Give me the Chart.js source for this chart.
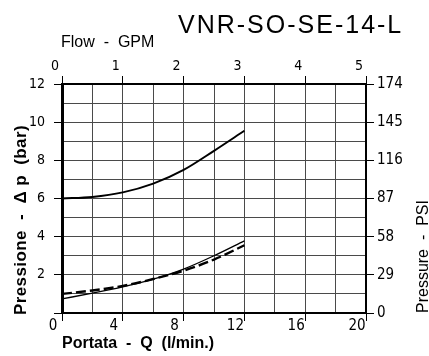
<!DOCTYPE html>
<html>
<head>
<meta charset="utf-8">
<script src="https://cdn.jsdelivr.net/npm/chart.js@4"></script>
<style>
  html, body { margin: 0; padding: 0; background: #fff; }
  #wrap { width: 429px; height: 356px; }
</style>
</head>
<body>
<div id="wrap"><canvas id="flowChart" width="429" height="356"></canvas></div>
<script>
const flowLpm = [0, 2, 4, 6, 8, 10, 12];
// Pressure drop (bar)
const upperCurve = [6.0, 6.08, 6.32, 6.78, 7.5, 8.5, 9.55];
const lowerSolid = [0.74, 1.04, 1.37, 1.77, 2.3, 3.0, 3.78];
const lowerDashed = [1.0, 1.18, 1.42, 1.78, 2.22, 2.8, 3.55];
// Tick labels
const lpmLabels = [0, 4, 8, 12, 16, 20];
const barLabels = [2, 4, 6, 8, 10, 12];
const psiLabels = [0, 29, 58, 87, 116, 145, 174];
const gpmLabels = [0, 1, 2, 3, 4, 5];

const narrow = "'Liberation Sans Narrow', 'DejaVu Sans Condensed', sans-serif";
const clear = 'rgba(0,0,0,0)';

function pts(values) {
  return flowLpm.map((q, i) => ({ x: q, y: values[i] }));
}

// titles drawn straight on the canvas
const chartText = {
  id: 'chartText',
  afterDraw(chart) {
    const ctx = chart.ctx;
    ctx.save();
    ctx.fillStyle = '#000';
    ctx.textBaseline = 'alphabetic';
    ctx.textAlign = 'left';

    ctx.font = "25px 'Liberation Sans', sans-serif";
    ctx.letterSpacing = '2px';
    ctx.fillText('VNR-SO-SE-14-L', 178, 33);
    ctx.letterSpacing = '0px';

    ctx.font = "16px 'Liberation Sans', sans-serif";
    ctx.fillText('Flow  -  GPM', 61, 47);

    ctx.font = "bold 16px 'Liberation Sans', sans-serif";
    ctx.fillText('Portata  -  Q  (l/min.)', 62, 348);

    // left title, rotated
    ctx.save();
    ctx.translate(26, 315);
    ctx.rotate(-Math.PI / 2);
    ctx.font = "bold 17px 'Liberation Sans', sans-serif";
    ctx.letterSpacing = '0.4px';
    ctx.fillText('Pressione  -  Δ p  (bar)', 0, 0);
    ctx.restore();

    // right title, rotated
    ctx.save();
    ctx.translate(428, 313);
    ctx.rotate(-Math.PI / 2);
    ctx.font = "16px 'Liberation Sans', sans-serif";
    ctx.fillText('Pressure  -  PSI', 0, 0);
    ctx.restore();

    ctx.restore();
  }
};

new Chart(document.getElementById('flowChart').getContext('2d'), {
  type: 'line',
  data: {
    datasets: [
      {
        data: pts(upperCurve),
        borderColor: '#000',
        borderWidth: 2,
        pointRadius: 0,
        cubicInterpolationMode: 'monotone',
        xAxisID: 'x',
        yAxisID: 'y'
      },
      {
        data: pts(lowerSolid),
        borderColor: '#000',
        borderWidth: 1.3,
        pointRadius: 0,
        cubicInterpolationMode: 'monotone',
        xAxisID: 'x',
        yAxisID: 'y'
      },
      {
        data: pts(lowerDashed),
        borderColor: '#000',
        borderWidth: 2.4,
        borderDash: [10, 4],
        pointRadius: 0,
        cubicInterpolationMode: 'monotone',
        xAxisID: 'x',
        yAxisID: 'y'
      }
    ]
  },
  options: {
    responsive: false,
    animation: false,
    devicePixelRatio: 1,
    layout: { padding: 0 },
    plugins: {
      legend: { display: false },
      tooltip: { enabled: false }
    },
    scales: {
      x: {
        type: 'linear',
        position: 'bottom',
        min: 0,
        max: 20,
        afterFit: s => { s.height = 43; },
        grid: {
          color: '#4a4a4a',
          lineWidth: 1,
          tickLength: 8,
          tickColor: c => (c.tick && lpmLabels.includes(c.tick.value)) ? '#000' : clear
        },
        border: { color: '#000', width: 2 },
        ticks: {
          stepSize: 2,
          autoSkip: false,
          maxRotation: 0,
          padding: -4,
          labelOffset: -9,
          color: '#000',
          font: { family: narrow, size: 15 },
          callback: v => lpmLabels.includes(v) ? String(v) : ''
        }
      },
      x2: {
        type: 'linear',
        position: 'top',
        min: 0,
        max: 5,
        afterFit: s => { s.height = 84; },
        grid: { drawOnChartArea: false, tickLength: 8, tickColor: '#000' },
        border: { color: '#000', width: 2 },
        ticks: {
          stepSize: 1,
          autoSkip: false,
          maxRotation: 0,
          padding: 1,
          labelOffset: -7,
          color: '#000',
          font: { family: narrow, size: 14 },
          callback: v => gpmLabels.includes(v) ? String(v) : ''
        }
      },
      y: {
        position: 'left',
        min: 0,
        max: 12,
        afterFit: s => { s.width = 62; },
        grid: {
          color: '#4a4a4a',
          lineWidth: 1,
          tickLength: 8,
          tickColor: c => (c.tick && c.tick.value % 2 === 0) ? '#000' : clear
        },
        border: { color: '#000', width: 3 },
        ticks: {
          stepSize: 1,
          autoSkip: false,
          padding: 9,
          color: '#000',
          font: { family: narrow, size: 14 },
          callback: v => barLabels.includes(v) ? String(v) : ''
        }
      },
      y2: {
        position: 'right',
        min: 0,
        max: 174,
        afterFit: s => { s.width = 63; },
        grid: { drawOnChartArea: false, tickLength: 8, tickColor: '#000' },
        border: { color: '#000', width: 2 },
        ticks: {
          stepSize: 29,
          autoSkip: false,
          padding: 3,
          color: '#000',
          font: { family: narrow, size: 15 },
          callback: v => psiLabels.includes(v) ? String(v) : ''
        }
      }
    }
  },
  plugins: [chartText]
});
</script>
</body>
</html>
